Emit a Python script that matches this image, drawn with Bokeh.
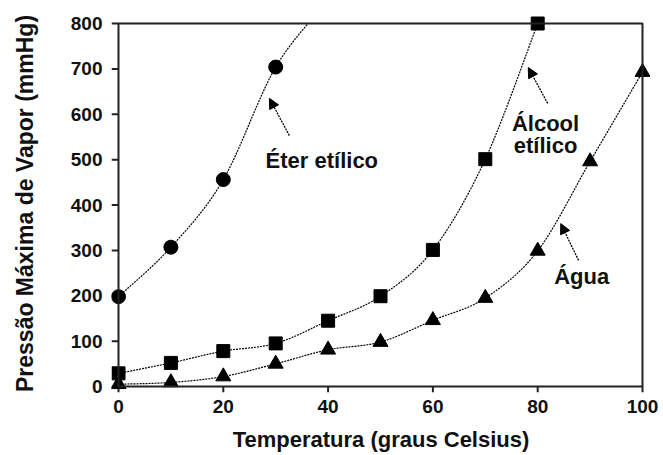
import numpy as np
from bokeh.plotting import figure
from bokeh.models import Range1d, FixedTicker, BoxAnnotation, Label, Arrow, NormalHead
from bokeh.embed import file_html
from bokeh.resources import INLINE

# ---- data ----
temp_eter = [0, 10, 20, 30, 40]
pres_eter = [198, 307, 456, 704, 850]

temp_alcool = [0, 10, 20, 30, 40, 50, 60, 70, 80]
pres_alcool = [29, 52, 78, 95, 145, 199, 301, 501, 800]

temp_agua = [0, 10, 20, 30, 40, 50, 60, 70, 80, 90, 100]
pres_agua = [5, 9, 22, 50, 81, 98, 146, 195, 299, 496, 693]

x_ticks = [0, 20, 40, 60, 80, 100]
y_ticks = [0, 100, 200, 300, 400, 500, 600, 700, 800]

X_MIN, X_MAX = 0, 100
Y_MIN, Y_MAX = 0, 800

FONT = "Liberation Sans"
INK = "#111111"
FRAME = "#222222"


def smooth(xs, ys, n=30):
    """Catmull-Rom style smoothing (like a spreadsheet 'smoothed line')."""
    P = np.column_stack([xs, ys]).astype(float)
    out = []
    t = np.linspace(0, 1, n)[:, None]
    for i in range(len(P) - 1):
        p0 = P[i - 1] if i > 0 else P[i]
        p1, p2 = P[i], P[i + 1]
        p3 = P[i + 2] if i + 2 < len(P) else P[i + 1]
        c1 = p1 + (p2 - p0) / 6.0
        c2 = p2 - (p3 - p1) / 6.0
        seg = ((1 - t) ** 3) * p1 + 3 * ((1 - t) ** 2) * t * c1 + 3 * (1 - t) * t ** 2 * c2 + t ** 3 * p2
        out.append(seg if i == 0 else seg[1:])
    C = np.vstack(out)
    return C[:, 0], C[:, 1]


def clip_top(xs, ys, top):
    cx, cy = [xs[0]], [ys[0]]
    for i in range(1, len(xs)):
        if ys[i] > top:
            f = (top - ys[i - 1]) / (ys[i] - ys[i - 1])
            cx.append(xs[i - 1] + f * (xs[i] - xs[i - 1]))
            cy.append(top)
            break
        cx.append(xs[i]); cy.append(ys[i])
    return cx, cy


px_x = 5.24      # pixels per degree
px_y = 0.45375   # pixels per mmHg
pad_l, pad_r, pad_t, pad_b = 7, 8, 9, 6   # px of frame padding around the box

p = figure(width=663, height=455,
           x_range=Range1d(X_MIN - pad_l / px_x, X_MAX + pad_r / px_x),
           y_range=Range1d(Y_MIN - pad_b / px_y, Y_MAX + pad_t / px_y),
           output_backend="svg", toolbar_location=None,
           min_border_left=111, min_border_right=13,
           min_border_top=14, min_border_bottom=63)
p.outline_line_color = None
p.xgrid.visible = False
p.ygrid.visible = False
p.background_fill_color = "white"
p.border_fill_color = "white"

# frame box
p.add_layout(BoxAnnotation(left=X_MIN, right=X_MAX, bottom=Y_MIN, top=Y_MAX,
                           fill_alpha=0, line_color=FRAME, line_alpha=1.0, line_width=2))

# tick marks (outward from the box)
ny, nx = len(y_ticks), len(x_ticks)
p.segment(x0=[X_MIN - pad_l / px_x] * ny, y0=y_ticks, x1=[X_MIN] * ny, y1=y_ticks,
          line_color=FRAME, line_width=2)
p.segment(x0=x_ticks, y0=[Y_MIN - pad_b / px_y] * nx, x1=x_ticks, y1=[Y_MIN] * nx,
          line_color=FRAME, line_width=2)

line_kw = dict(line_color="black", line_width=1.2, line_dash="2 1")

ex, ey = smooth(temp_eter, pres_eter)
ex, ey = clip_top(ex, ey, Y_MAX)
p.line(ex, ey, **line_kw)
ax, ay = smooth(temp_alcool, pres_alcool)
p.line(ax, ay, **line_kw)
wx, wy = smooth(temp_agua, pres_agua)
p.line(wx, wy, **line_kw)

p.scatter(temp_eter, pres_eter, marker="circle", size=14, color="black")
p.scatter(temp_alcool, pres_alcool, marker="square", size=13, color="black")
p.scatter(temp_agua, pres_agua, marker="triangle", size=15, color="black")

# axes
for ax_ in (p.xaxis[0], p.yaxis[0]):
    ax_.axis_line_color = None
    ax_.major_tick_out = 0
    ax_.major_tick_in = 0
    ax_.major_tick_line_color = None
    ax_.minor_tick_line_color = None
    ax_.major_label_text_font = FONT
    ax_.major_label_text_font_style = "bold"
    ax_.major_label_text_font_size = "19px"
    ax_.major_label_text_color = INK
    ax_.axis_label_text_font = FONT
    ax_.axis_label_text_font_style = "bold"
    ax_.axis_label_text_color = INK

p.xaxis.ticker = FixedTicker(ticks=x_ticks)
p.yaxis.ticker = FixedTicker(ticks=y_ticks)
p.xaxis.major_label_standoff = 7
p.yaxis.major_label_standoff = 9
p.xaxis.axis_label = "Temperatura (graus Celsius)"
p.yaxis.axis_label = "Pressão Máxima de Vapor (mmHg)"
p.xaxis.axis_label_text_font_size = "22px"
p.yaxis.axis_label_text_font_size = "23px"
p.xaxis.axis_label_standoff = 11
p.yaxis.axis_label_standoff = 30

# annotations
lab_kw = dict(text_font=FONT, text_font_style="bold", text_font_size="22px",
              text_color=INK, text_align="center", text_baseline="alphabetic")
p.add_layout(Label(x=38.8, y=498, text="Éter etílico", **lab_kw))
p.add_layout(Label(x=81.5, y=580, text="Álcool", **lab_kw))
p.add_layout(Label(x=81.5, y=531, text="etílico", **lab_kw))
p.add_layout(Label(x=88.4, y=242, text="Água", **lab_kw))

head = dict(size=10, fill_color="black", line_color="black")
arr_kw = dict(line_color="black", line_width=1.3, line_dash="2 1")
p.add_layout(Arrow(end=NormalHead(**head), x_start=32.6, y_start=553, x_end=28.8, y_end=635, **arr_kw))
p.add_layout(Arrow(end=NormalHead(**head), x_start=81.9, y_start=624, x_end=78.2, y_end=703, **arr_kw))
p.add_layout(Arrow(end=NormalHead(**head), x_start=87.8, y_start=278, x_end=84.4, y_end=359, **arr_kw))

open("out.html", "w").write(file_html(p, INLINE))
